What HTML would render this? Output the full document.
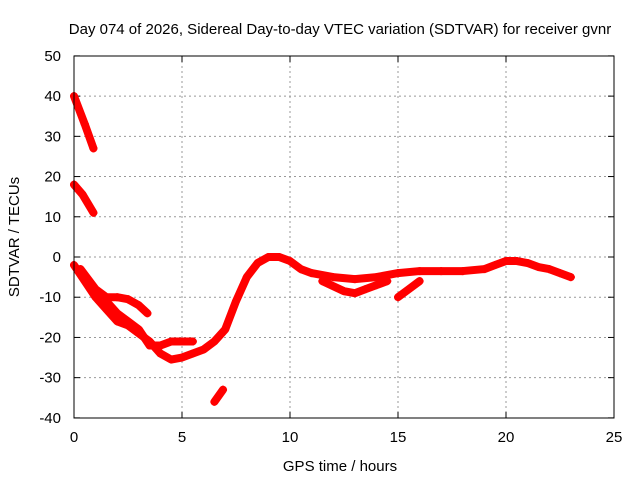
<!DOCTYPE html>
<html><head><meta charset="utf-8"><style>
body{margin:0;background:#fff}
svg{display:block;font-family:"Liberation Sans",sans-serif}
</style></head><body>
<svg id="c" width="640" height="480">
<text x="340" y="34" font-size="15" text-anchor="middle">Day 074 of 2026, Sidereal Day-to-day VTEC variation (SDTVAR) for receiver gvnr</text>
<text x="340" y="471" font-size="15" text-anchor="middle">GPS time / hours</text>
<text transform="translate(19,237) rotate(-90)" font-size="15" text-anchor="middle">SDTVAR / TECUs</text>
<g id="grid"></g><g id="data"></g>
<rect x="74" y="56" width="540" height="362" fill="none" stroke="#000" stroke-width="1"/>
</svg>
<script>
const xTicks=[0,5,10,15,20,25];
const yTicks=[-40,-30,-20,-10,0,10,20,30,40,50];
const t1=[[0,40],[0.5,33],[0.9,27]];
const t2=[[0,18],[0.4,15.5],[0.9,11]];
const t3=[[0,-2],[0.5,-6],[1,-10],[1.5,-13],[2,-16],[2.5,-17],[3,-19],[3.5,-21],[4,-24],[4.5,-25.5],[5,-25],[5.5,-24],[6,-23],[6.5,-21],[7,-18],[7.5,-11],[8,-5],[8.5,-1.5],[9,0],[9.5,0],[10,-1],[10.5,-3],[11,-4],[12,-5],[13,-5.5],[14,-5],[15,-4],[16,-3.5],[17,-3.5],[18,-3.5],[19,-3],[19.5,-2],[20,-1],[20.5,-1],[21,-1.5],[21.5,-2.5],[22,-3],[22.5,-4],[23,-5]];
const t4=[[0.3,-3],[1,-8],[1.5,-10],[2,-10],[2.5,-10.5],[3,-12],[3.4,-14]];
const t5=[[1.5,-11],[2,-14],[2.5,-16],[3,-18],[3.5,-22],[4,-22],[4.5,-21],[5,-21],[5.5,-21]];
const t6=[[6.5,-36],[6.9,-33]];
const t7=[[11.5,-6],[12.5,-8.5],[13,-9],[13.5,-8],[14,-7],[14.5,-6]];
const t8=[[15,-10],[15.5,-8],[16,-6]];
const series=[t1,t2,t3,t4,t5,t6,t7,t8];
const X=v=>74+v*21.6, Y=v=>257-v*4.022;
const NS="http://www.w3.org/2000/svg";
const g=document.getElementById('grid'), d=document.getElementById('data');
function mk(p,tag,a){const e=document.createElementNS(NS,tag);for(const k in a)e.setAttribute(k,a[k]);p.appendChild(e);return e;}
xTicks.forEach(v=>{
 if(v>0&&v<25){const l=mk(g,'line',{x1:X(v),x2:X(v),y1:56,y2:418,stroke:'#999','stroke-dasharray':'2,3'});
 
 }
 mk(g,'line',{x1:X(v),x2:X(v),y1:418,y2:412,stroke:'#000'});
 mk(g,'line',{x1:X(v),x2:X(v),y1:56,y2:62,stroke:'#000'});
 const t=mk(g,'text',{x:X(v),y:442,'font-size':15,'text-anchor':'middle'});t.textContent=v;
 
 
});
yTicks.forEach(v=>{
 if(v>-40&&v<50){const l=mk(g,'line',{x1:74,x2:614,y1:Y(v),y2:Y(v),stroke:'#999','stroke-dasharray':'2,3'});
 
 }
 mk(g,'line',{x1:74,x2:80,y1:Y(v),y2:Y(v),stroke:'#000'});
 mk(g,'line',{x1:614,x2:608,y1:Y(v),y2:Y(v),stroke:'#000'});
 const t=mk(g,'text',{x:61,y:Y(v)+5,'font-size':15,'text-anchor':'end'});t.textContent=v;
 
 
});
series.forEach(s=>{
 const p=mk(d,'polyline',{points:s.map(q=>X(q[0])+','+Y(q[1])).join(' '),fill:'none',stroke:'#f00','stroke-width':8,'stroke-linejoin':'round','stroke-linecap':'round'});
 
 
 s.forEach(q=>{const m=mk(d,'path',{d:`M${X(q[0])-4},${Y(q[1])}h8M${X(q[0])},${Y(q[1])-4}v8`,stroke:'#f00','stroke-width':2});
 
 });
});
</script>
</body></html>
